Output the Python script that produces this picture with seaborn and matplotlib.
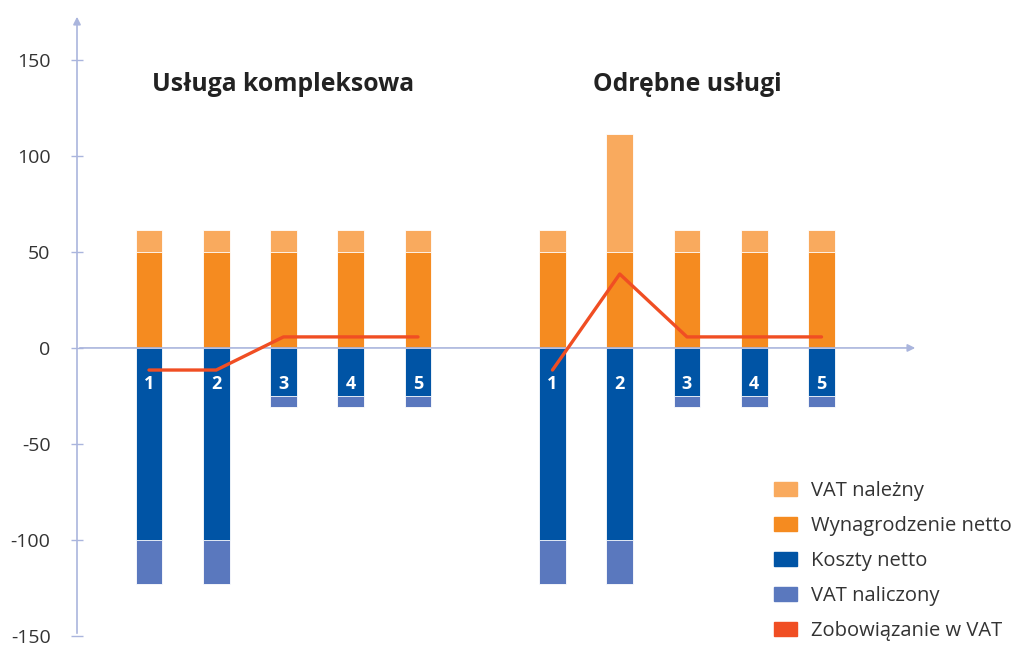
import numpy as np
import pandas as pd
import seaborn as sns
import matplotlib.pyplot as plt
from matplotlib.patches import Patch

# dane z wykresu
pozycje = [0, 1, 2, 3, 4, 6, 7, 8, 9, 10]
grupa = ["kompleksowa"] * 5 + ["odrebne"] * 5
numery = ["1", "2", "3", "4", "5", "1", "2", "3", "4", "5"]
wynagrodzenie_netto = [50, 50, 50, 50, 50, 50, 50, 50, 50, 50]
vat_nalezny = [11.5, 11.5, 11.5, 11.5, 11.5, 11.5, 61.5, 11.5, 11.5, 11.5]
koszty_netto = [-100, -100, -25, -25, -25, -100, -100, -25, -25, -25]
vat_naliczony = [-23, -23, -5.75, -5.75, -5.75, -23, -23, -5.75, -5.75, -5.75]
zobowiazanie_vat = [-11.5, -11.5, 5.75, 5.75, 5.75, -11.5, 38.5, 5.75, 5.75, 5.75]
tytuly = ["Usługa kompleksowa", "Odrębne usługi"]
tytuly_x = [2, 8]
yticki = [-150, -100, -50, 0, 50, 100, 150]

c_nalezny = "#F9AA5E"
c_wynagr = "#F58B20"
c_koszty = "#0054A5"
c_naliczony = "#5A78BE"
c_zobow = "#F04E23"
c_os = "#AAB5DD"

df = pd.DataFrame({
    "poz": pozycje,
    "grupa": grupa,
    "wyn": wynagrodzenie_netto,
    "gora": np.array(wynagrodzenie_netto) + np.array(vat_nalezny),
    "koszty": koszty_netto,
    "dol": np.array(koszty_netto) + np.array(vat_naliczony),
    "zob": zobowiazanie_vat,
})

sns.set_style("white")
plt.rcParams["font.family"] = ["Open Sans", "DejaVu Sans"]

fig = plt.figure(figsize=(10.17, 6.45), dpi=100)
ax = fig.add_axes([77 / 1017, 9 / 645, 841 / 1017, 622 / 645])

bar_kw = dict(native_scale=True, width=0.4, errorbar=None, edgecolor="white", linewidth=0.6, ax=ax)
sns.barplot(data=df, x="poz", y="gora", color=c_nalezny, saturation=1, **bar_kw)
sns.barplot(data=df, x="poz", y="wyn", color=c_wynagr, saturation=1, **bar_kw)
sns.barplot(data=df, x="poz", y="dol", color=c_naliczony, saturation=1, **bar_kw)
sns.barplot(data=df, x="poz", y="koszty", color=c_koszty, saturation=1, **bar_kw)

x0, x1 = -1.0706, 11.435
y0, y1 = -150, 173.9
ax.set_xlim(x0, x1)
ax.set_ylim(y0, y1)

# osie
ax.annotate("", xy=(x1, 0), xytext=(x0, 0),
            arrowprops=dict(arrowstyle="-|>", color=c_os, lw=1.2, mutation_scale=11), zorder=3)
ax.annotate("", xy=(x0, y1), xytext=(x0, y0),
            arrowprops=dict(arrowstyle="-|>", color=c_os, lw=1.2, mutation_scale=11), zorder=3)

sns.lineplot(data=df, x="poz", y="zob", units="grupa", estimator=None, color=c_zobow,
             lw=2.4, solid_capstyle="round", ax=ax, zorder=5)

for p, n in zip(pozycje, numery):
    ax.text(p, -19, n, color="white", fontsize=13, fontweight="bold",
            ha="center", va="center", zorder=6)

for tx, t in zip(tytuly_x, tytuly):
    ax.text(tx, 137, t, fontsize=17.8, fontweight="bold", color="#222222",
            ha="center", va="center")

for s in ax.spines.values():
    s.set_visible(False)
ax.set_xticks([])
ax.set_yticks(yticki)
ax.set_yticklabels([str(v) for v in yticki])
ax.tick_params(axis="y", direction="inout", length=8, width=1, color=c_os,
               labelsize=14, labelcolor="#333333", pad=15, left=True)
ax.set_xlabel("")
ax.set_ylabel("")

uchwyty = [Patch(color=c_nalezny), Patch(color=c_wynagr), Patch(color=c_koszty),
           Patch(color=c_naliczony), Patch(color=c_zobow)]
etykiety = ["VAT należny", "Wynagrodzenie netto", "Koszty netto", "VAT naliczony", "Zobowiązanie w VAT"]
fig.legend(uchwyty, etykiety, loc="upper left", bbox_to_anchor=(774 / 1017, 1 - 481 / 645),
           frameon=False, fontsize=14.5, handlelength=1.14, handleheight=0.7,
           handletextpad=0.7, labelspacing=0.75, borderpad=0, borderaxespad=0,
           labelcolor="#333333")

fig.savefig("out.png", dpi=100)
